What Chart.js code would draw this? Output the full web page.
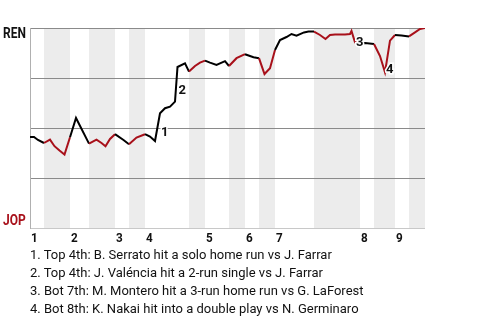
<!DOCTYPE html>
<html>
<head>
<meta charset="utf-8">
<script src="https://cdn.jsdelivr.net/npm/chart.js@4"></script>
<style>
  body { margin: 0; background: #fff; }
  #wrap { position: relative; width: 480px; height: 320px; }
  #chart-box { position: absolute; left: 0; top: 0; width: 480px; height: 250px; }
  #notes {
    position: absolute; left: 30px; top: 246px;
    font-family: "Roboto", sans-serif;
    font-size: 13px; line-height: 18px; color: #111;
  }
</style>
</head>
<body>
<div id="wrap">
  <div id="chart-box"><canvas id="wp-chart"></canvas></div>
  <div id="notes"></div>
</div>
<script>
//Play index and REN win chance (%) after each play
let Plays = [0, 0.8, 1.6, 2.8, 4, 4.9, 5.9, 6.9, 8, 9.2, 11.8, 13.3, 14.3, 15.1, 16, 17, 18.7, 19.8, 21.3, 23,
    24, 25, 26, 27, 28, 29, 29.5, 31, 31.8, 33, 34, 35, 36, 37.3, 39, 39.8, 41.3, 43, 44.7, 45.8,
    46.9, 48, 49, 50, 51.3, 52.3, 53.3, 54.8, 55.7, 56.8, 58, 59.1, 60, 61, 62, 63, 64, 64.3, 65, 66,
    67, 68.8, 70, 71, 72, 73, 74.3, 75.8, 77, 78, 79];
let RenWin = [45.5, 45.5, 44, 42.5, 44.2, 40.9, 38.7, 36.7, 45.4, 55, 42.2, 44.2, 42.5, 40.9, 44.5, 46.9, 44, 41.9, 45.2, 46.9,
    45.7, 43.5, 57.4, 59.9, 60.7, 63.2, 80.5, 82.3, 78.2, 81, 82.7, 83.7, 82.7, 81.5, 83.4, 81, 84.9, 86.9, 85.4, 84.9,
    77, 79.9, 89, 94, 95.5, 97, 96.2, 97.8, 98.2, 98.2, 96.5, 94.5, 96.5, 96.8, 96.8, 96.8, 97, 98.5, 92.8, 92.3,
    92.5, 92, 86, 77.8, 93.7, 96.5, 96.2, 95.8, 97.8, 99.5, 100];

//Where each inning starts, and where its bottom half starts / ends
let InningStarts = [0, 8, 17, 23, 35, 43, 49, 66, 73];
let InningLabels = ['1', '2', '3', '4', '5', '6', '7', '8', '9'];
let BottomStarts = [2.8, 11.8, 19.8, 31.8, 39.8, 45.8, 56.8, 68.8, 75.8];
let BottomEnds = [8, 17, 23, 35, 43, 49, 66, 73, 79];

//Big plays marked on the line
let KeyPlays = [26, 29.5, 65, 71];
let KeyLabels = ['1', '2', '3', '4'];
let KeyNotes = [
    'Top 4th: B. Serrato hit a solo home run vs J. Farrar',
    'Top 4th: J. Valéncia hit a 2-run single vs J. Farrar',
    'Bot 7th: M. Montero hit a 3-run home run vs G. LaForest',
    'Bot 8th: K. Nakai hit into a double play vs N. Germinaro'
];

const RED = '#a8101a';
const FONT = 'Roboto, sans-serif';

const inBottom = (x) => BottomStarts.some((s, i) => x > s && x < BottomEnds[i]);

//narrow bold text, like the condensed face of the original
function narrowText(ctx, text, x, y, sx) {
    ctx.save();
    ctx.translate(x, y);
    ctx.scale(sx, 1);
    ctx.fillText(text, 0, 0);
    ctx.restore();
}

//shade the bottom halves
const shadePlugin = {
    id: 'shade',
    beforeDraw(chart) {
        const { ctx, chartArea, scales } = chart;
        ctx.save();
        ctx.fillStyle = '#ececec';
        BottomStarts.forEach((s, i) => {
            const x0 = scales.x.getPixelForValue(s);
            const x1 = scales.x.getPixelForValue(BottomEnds[i]);
            ctx.fillRect(x0, chartArea.top, x1 - x0, chartArea.bottom - chartArea.top);
        });
        ctx.restore();
    }
};

//team names, inning numbers and key play numbers
const labelPlugin = {
    id: 'labels',
    afterDraw(chart) {
        const { ctx, chartArea, scales } = chart;
        ctx.save();
        ctx.textBaseline = 'middle';
        ctx.textAlign = 'left';

        ctx.font = 'bold 15px ' + FONT;
        ctx.fillStyle = '#111';
        narrowText(ctx, 'REN', 3, chartArea.top + 6, 0.8);
        ctx.fillStyle = RED;
        narrowText(ctx, 'JOP', 3, chartArea.bottom - 7, 0.8);

        ctx.font = 'bold 13px ' + FONT;
        ctx.fillStyle = '#111';
        InningStarts.forEach((s, i) => {
            narrowText(ctx, InningLabels[i], scales.x.getPixelForValue(s) + 1, chartArea.bottom + 11, 0.9);
        });

        KeyPlays.forEach((p, i) => {
            const k = Plays.indexOf(p);
            const x = scales.x.getPixelForValue(Plays[k]) + 1;
            const y = (scales.y.getPixelForValue(RenWin[k]) + scales.y.getPixelForValue(RenWin[k - 1])) / 2 + 6;
            ctx.lineWidth = 3;
            ctx.strokeStyle = '#fff';
            ctx.strokeText(KeyLabels[i], x, y);
            ctx.fillStyle = '#111';
            ctx.fillText(KeyLabels[i], x, y);
        });
        ctx.restore();
    }
};

const data = {
    datasets: [{
        data: Plays.map((p, i) => ({ x: p, y: RenWin[i] })),
        borderColor: '#000',
        borderWidth: 2,
        pointRadius: 0,
        tension: 0,
        segment: {
            borderColor: (c) => inBottom((c.p0.parsed.x + c.p1.parsed.x) / 2) ? RED : '#000'
        }
    }]
};

const config = {
    type: 'line',
    data: data,
    options: {
        responsive: true,
        maintainAspectRatio: false,
        animation: false,
        layout: { padding: { left: 30, right: 55, top: 28, bottom: 22 } },
        plugins: { legend: { display: false }, tooltip: { enabled: false } },
        scales: {
            x: {
                type: 'linear',
                min: 0,
                max: 79,
                ticks: { display: false },
                grid: { display: false, drawTicks: false },
                border: { display: false }
            },
            y: {
                min: 0,
                max: 100,
                ticks: { display: false, stepSize: 25 },
                grid: {
                    drawTicks: false,
                    color: (c) => c.tick.value === 0 ? '#c8c8c8' : '#8a8a8a'
                },
                border: { display: true, color: '#b0b0b0' }
            }
        }
    },
    plugins: [shadePlugin, labelPlugin]
};

let WinChart = new Chart(document.getElementById('wp-chart'), config);

//list of key plays under the chart
let notesBox = document.getElementById('notes');
KeyNotes.forEach((n, i) => {
    const d = document.createElement('div');
    d.textContent = `${KeyLabels[i]}. ${n}`;
    notesBox.appendChild(d);
});
</script>
</body>
</html>
